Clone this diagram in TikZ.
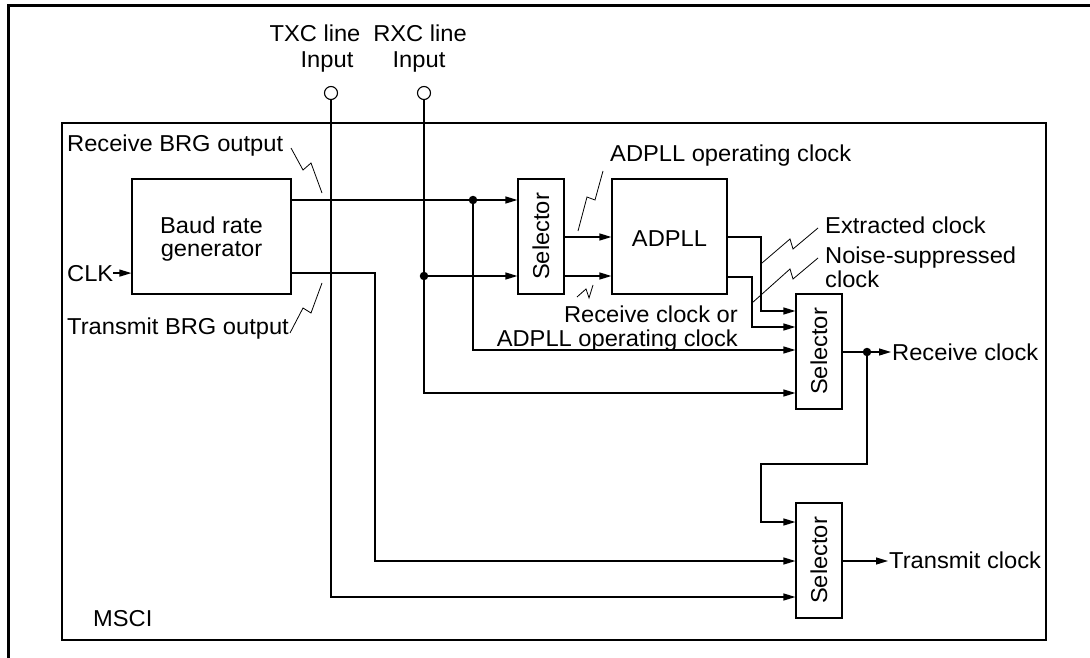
\documentclass[tikz,border=0pt]{standalone}
\usepackage{fontspec}
\setmainfont{Liberation Sans}[FakeStretch=1.03]
\usetikzlibrary{arrows.meta,calc}
\newcommand{\dfont}{\fontsize{23}{24}\selectfont}
\begin{document}
\begin{tikzpicture}[x=1pt,y=-1pt,
  every node/.style={font=\dfont},
  lbl/.style={inner sep=0pt},
  blk/.style={draw,line width=1.2pt,minimum height=115pt,inner sep=0pt},
  sel/.style={blk,minimum width=46pt},
  conn/.style={line width=1.2pt},
  arr/.style={conn,-{Triangle[length=12pt,width=7pt]}},
  dot/.style={circle,fill=black,inner sep=0pt,minimum size=8.5pt},
  pin/.style={circle,draw,line width=1.1pt,inner sep=0pt,minimum size=13pt,fill=white},
  zz/.style={line width=0.8pt}]
\useasboundingbox (0,0) rectangle (1090,658);
% outer frame
\draw[line width=3pt] (1090,6) -- (8.5,6) -- (8.5,658);
% MSCI box
\draw[line width=1.3pt] (62,123) rectangle (1046,640);
\node[lbl,anchor=base west] (msci) at (93,626) {MSCI};

% level coordinates
\coordinate (y200) at (0,200);
\coordinate (y237) at (0,237);
\coordinate (y273) at (0,273);
\coordinate (y276) at (0,276);
\coordinate (y277) at (0,277);
\coordinate (y350) at (0,350);
\coordinate (y352) at (0,352);
\coordinate (y393) at (0,393);
\coordinate (y522) at (0,522);
\coordinate (y561) at (0,561);
\coordinate (y597) at (0,597);

% blocks
\node[blk,minimum width=159pt] (brg) at (211.5,236.5) {};
\node[lbl,anchor=base] (brgt1) at (211.5,233) {Baud rate};
\node[lbl,anchor=base] (brgt2) at (211.5,256) {generator};
\node[sel] (sel1) at (541,236.5) {};
\node[lbl,rotate=90] (sel1t) at (541,236.5) {Selector};
\node[blk,minimum width=115pt] (adpll) at (669.5,236.5) {};
\node[lbl,anchor=base] (adpllt) at (669.5,246) {ADPLL};
\node[sel] (sel2) at (819,351.5) {};
\node[lbl,rotate=90] (sel2t) at (819,351.5) {Selector};
\node[sel] (sel3) at (819,560.5) {};
\node[lbl,rotate=90] (sel3t) at (819,560.5) {Selector};

% inputs
\node[lbl,anchor=base] (txct1) at (315,42) {TXC line};
\node[lbl,anchor=base] (txct2) at (327,68) {Input};
\node[lbl,anchor=base] (rxct1) at (420,42) {RXC line};
\node[lbl,anchor=base] (rxct2) at (419,68) {Input};
\node[lbl,anchor=base west] (clk) at (67,281) {CLK};

% labels
\node[lbl,anchor=base west] (rbrg) at (67,152) {Receive BRG output};
\node[lbl,anchor=base west] (tbrg) at (67,334) {Transmit BRG output};
\node[lbl,anchor=base west] (aoc) at (610,162) {ADPLL operating clock};
\node[lbl,anchor=base west] (ext) at (825,233) {Extracted clock};
\node[lbl,anchor=base west] (ns1) at (825,263) {Noise-suppressed};
\node[lbl,anchor=base west] (ns2) at (825,287) {clock};
\node[lbl,anchor=base east] (rco1) at (738,322) {Receive clock or};
\node[lbl,anchor=base east] (rco2) at (738,346) {ADPLL operating clock};
\node[lbl,anchor=base west,inner xsep=1pt] (rclk) at (891,360) {Receive clock};
\node[lbl,anchor=base west,inner xsep=1pt] (tclk) at (888,568) {Transmit clock};

% junction coordinates
\coordinate (c1) at (375,561);
\coordinate (c2) at (761,311);
\coordinate (c3) at (752,327);
\coordinate (c4) at (761,464);

% connectors
\draw[arr] (clk.east) -- (brg.west |- clk.east);
\draw[arr] (brg.east |- y200) -- (sel1.west |- y200);
\node[dot] (d1) at (473,200) {};
\draw[arr] (d1.center) |- (sel2.west |- y350);
\draw[arr] (brg.east |- y273) -| (c1) -- (sel3.west |- c1);
\node[pin] (txc) at (331,93) {};
\node[pin] (rxc) at (424,93) {};
\draw[arr] (txc.south) |- (sel3.west |- y597);
\draw[arr] (rxc.south) |- (sel2.west |- y393);
\node[dot] (d2) at (424,276) {};
\draw[arr] (d2.center) -- (sel1.west |- y276);
\draw[arr] (sel1.east |- y237) -- (adpll.west |- y237);
\draw[arr] (sel1.east |- y276) -- (adpll.west |- y276);
\draw[arr] (adpll.east |- y237) -| (c2) -- (sel2.west |- c2);
\draw[arr] (adpll.east |- y277) -| (c3) -- (sel2.west |- c3);
\node[dot] (d3) at (867,352) {};
\draw[conn] (sel2.east |- y352) -- (d3.center);
\draw[arr] (d3.center) -- (rclk.west |- y352);
\draw[arr] (d3.center) |- (c4) |- (sel3.west |- y522);
\draw[arr] (sel3.east |- y561) -- (tclk.west |- y561);

% zigzag leaders
\draw[zz] (291,148) -- (303,170) -- (311,163) -- (322,193);
\draw[zz] (290,333) -- (303,308) -- (311,313) -- (322,283);
\draw[zz] (603,171) -- (595,200) -- (587,197) -- (578,231);
\draw[zz] (577,297) -- (586,289) -- (589,298) -- (593,285);
\draw[zz] (762,263) -- (790,239) -- (793,249) -- (818,228);
\draw[zz] (752,303) -- (790,269) -- (793,279) -- (818,258);
\end{tikzpicture}
\end{document}
